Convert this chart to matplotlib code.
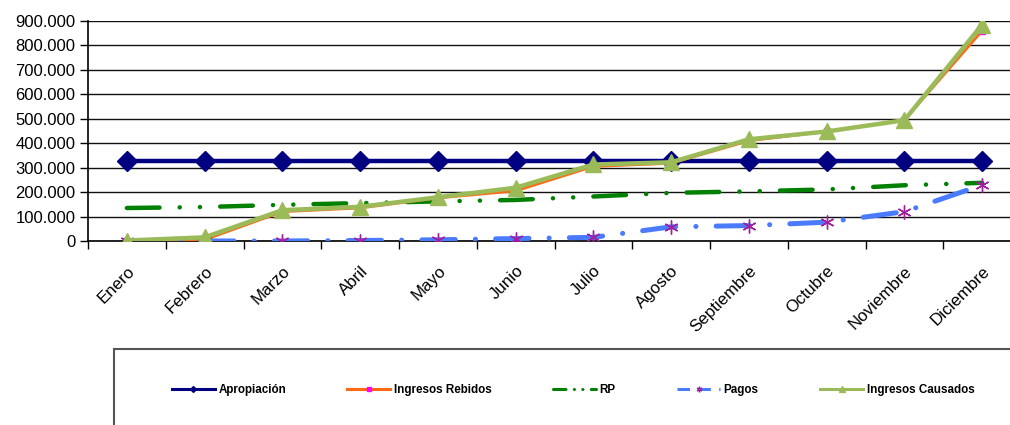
import matplotlib
matplotlib.use("Agg")
import matplotlib.pyplot as plt
from matplotlib.lines import Line2D
from matplotlib.patches import Rectangle
from matplotlib.ticker import FuncFormatter, MultipleLocator, FixedLocator

plt.rcParams['font.family'] = ['Liberation Sans', 'DejaVu Sans']
plt.rcParams['lines.scale_dashes'] = False

meses = ["Enero", "Febrero", "Marzo", "Abril", "Mayo", "Junio", "Julio",
         "Agosto", "Septiembre", "Octubre", "Noviembre", "Diciembre"]

apropiacion = [327000] * 12
ingresos_rebidos = [0, 5000, 120000, 135000, 176000, 205000, 305000, 318000,
                    410000, 448000, 495000, 860000]
rp = [135000, 139000, 148000, 155000, 162000, 168000, 182000, 197000,
      203000, 211000, 228000, 238000]
pagos = [0, 0, 0, 2000, 5000, 10000, 15000, 58000, 63000, 77000, 120000, 229000]
ingresos_causados = [2000, 15000, 126000, 140000, 179000, 218000, 313000, 322000,
                     416000, 448000, 494000, 885000]

W, H = 1010, 425
fig = plt.figure(figsize=(W / 100, H / 100), dpi=100)
ax = fig.add_axes([88 / W, 1 - 241 / H, (1021 - 88) / W, (241 - 21) / H])

x = list(range(len(meses)))

ax.plot(x, apropiacion, color="#000080", lw=3.2, marker="D", markersize=10,
        markerfacecolor="#000080", markeredgecolor="#000080", zorder=3,
        label="Apropiación")
ax.plot(x, ingresos_rebidos, color="#FF6A13", lw=2.0, marker="s", markersize=4,
        markerfacecolor="#FF00FF", markeredgecolor="#FF00FF", zorder=4,
        label="Ingresos Rebidos")
ax.plot(x, rp, color="#008000", lw=3.2, linestyle=(0, (23.5, 14.5, 0.1, 14.5, 0.1, 14.5)),
        dash_capstyle="round", zorder=3, label="RP")
ax.plot(x, pagos, color="#4A7BFF", lw=3.6, linestyle=(0, (24, 14.5, 0.1, 14.5)),
        dash_capstyle="round", marker=(6, 2, 0), markersize=10,
        markeredgecolor="#A020A0", markerfacecolor="#A020A0", markeredgewidth=1.0,
        zorder=4, label="Pagos")
ax.plot(x, ingresos_causados, color="#9BBB59", lw=3.2, marker="^", markersize=11,
        markerfacecolor="#9BBB59", markeredgecolor="#9BBB59", zorder=5,
        label="Ingresos Causados")

ax.set_xlim(-0.5, len(meses) - 0.5)
ax.set_ylim(0, 900000)

ax.yaxis.set_major_locator(MultipleLocator(100000))
ax.yaxis.set_major_formatter(FuncFormatter(
    lambda v, p: "0" if v == 0 else f"{int(v):,}".replace(",", ".")))
ax.grid(axis="y", color="#111111", lw=1.0)
ax.set_axisbelow(True)

ax.set_xticks(x)
ax.set_xticklabels(meses, rotation=45, ha="right", rotation_mode="anchor",
                   fontsize=12.2)
ax.xaxis.set_minor_locator(FixedLocator([i - 0.5 for i in range(len(meses) + 1)]))
ax.tick_params(axis="x", which="major", length=0, pad=16)
ax.tick_params(axis="x", which="minor", length=6, width=1, direction="out", color="black")
ax.tick_params(axis="y", length=6, width=1, direction="out", labelsize=12, pad=3)

for s in ("top", "right"):
    ax.spines[s].set_visible(False)
ax.spines["left"].set_color("black")
ax.spines["bottom"].set_color("black")
ax.spines["left"].set_linewidth(1.2)
ax.spines["bottom"].set_linewidth(1.2)

# legend box
fig.patches.append(Rectangle((114 / W, 1 - 431 / H), 916 / W, 82 / H,
                             transform=fig.transFigure, fill=False,
                             edgecolor="#555555", lw=1.5))

handles, labels = ax.get_legend_handles_labels()
leg_handles = [
    Line2D([], [], color="#000080", lw=2.2, marker="D", markersize=3),
    Line2D([], [], color="#FF6A13", lw=2.2, marker="s", markersize=3,
           markerfacecolor="#FF00FF", markeredgecolor="#FF00FF"),
    Line2D([], [], color="#008000", lw=2.2, linestyle=(0, (9, 6, 0.1, 6, 0.1, 6)),
           dash_capstyle="round"),
    Line2D([], [], color="#4A7BFF", lw=2.2, linestyle=(0, (9, 6)),
           marker=(6, 2, 0), markersize=4, markeredgecolor="#A020A0"),
    Line2D([], [], color="#9BBB59", lw=2.2, marker="^", markersize=4),
]
fig.legend(leg_handles, labels, loc="center", bbox_to_anchor=(573 / W, 1 - 390 / H),
           ncol=5, frameon=False, handlelength=3.7, handletextpad=0.3,
           columnspacing=5.25,
           prop={"family": ["Liberation Sans", "DejaVu Sans"],
                 "weight": "bold", "size": 8.4})

fig.savefig("out.png", dpi=100)
